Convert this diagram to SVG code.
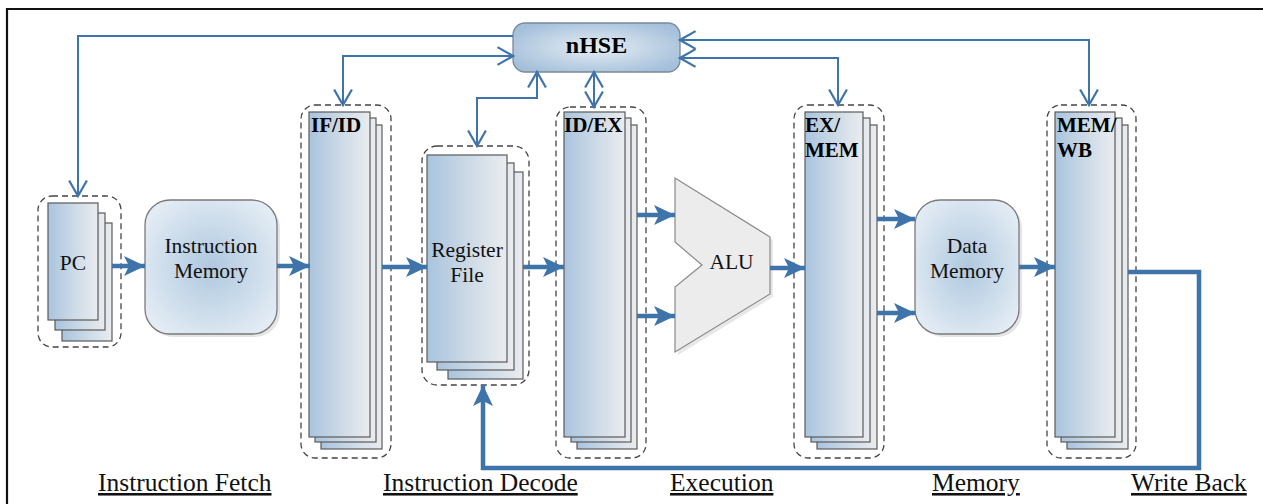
<svg xmlns="http://www.w3.org/2000/svg" width="1263" height="504" viewBox="0 0 1263 504">
<defs>
<linearGradient id="cardG" x1="0" y1="0" x2="1" y2="0">
<stop offset="0" stop-color="#a9c4de"/>
<stop offset="0.5" stop-color="#cbd9e6"/>
<stop offset="1" stop-color="#eaecef"/>
</linearGradient>
<radialGradient id="hseG" cx="0.5" cy="0.5" r="0.6">
<stop offset="0" stop-color="#e6edf4"/>
<stop offset="1" stop-color="#a3bfda"/>
</radialGradient>
<radialGradient id="memG" cx="0.5" cy="0.5" r="0.6">
<stop offset="0" stop-color="#afc8df"/>
<stop offset="1" stop-color="#e3ecf4"/>
</radialGradient>
<marker id="open" markerUnits="userSpaceOnUse" markerWidth="20" markerHeight="20" viewBox="0 0 16 18" refX="15" refY="9" orient="auto-start-reverse">
<path d="M1,1 L15,9 L1,17" fill="none" stroke="#3f74aa" stroke-width="2"/>
</marker>
<marker id="solid" markerUnits="userSpaceOnUse" markerWidth="22" markerHeight="22" viewBox="0 0 22 22" refX="21" refY="11" orient="auto">
<path d="M0,1 L21,11 L0,21 L5,11 z" fill="#3f74aa"/>
</marker>
<style>
.card{fill:url(#cardG);stroke:#5a5a5a;stroke-width:1.2}
.dash{fill:none;stroke:#444;stroke-width:1.3;stroke-dasharray:6 4}
.thin{fill:none;stroke:#3f74aa;stroke-width:2;marker-end:url(#open)}
.both{marker-start:url(#open)}
.thick{fill:none;stroke:#3f74aa;stroke-width:4.5;marker-end:url(#solid)}
.lbl{font-family:"Liberation Serif","Times New Roman",serif;font-size:21.5px;fill:#111}
.bold{font-family:"Liberation Serif","Times New Roman",serif;font-size:21px;font-weight:bold;fill:#000}
.stage{font-family:"Liberation Serif","Times New Roman",serif;font-size:25.5px;fill:#111;text-decoration:underline}
.mem{fill:url(#memG);stroke:#7a7a7a;stroke-width:1.3}
.shadow{fill:#d4d4d4;opacity:0.6}
</style>
</defs>
<rect width="1263" height="504" fill="#fff"/>
<path d="M7,504 V9 H1263" fill="none" stroke="#111" stroke-width="2.2"/>

<g id="nHSE">
<rect x="513" y="23" width="167" height="49" rx="12" fill="url(#hseG)" stroke="#7a8a9a" stroke-width="1.3"/>
<text x="596.5" y="53" text-anchor="middle" class="bold" style="font-size:24px">nHSE</text>
</g>

<g id="PC">
<rect class="dash" x="38" y="196" width="83" height="151" rx="14"/>
<rect class="card" x="62" y="223" width="50" height="118"/>
<rect class="card" x="55" y="213" width="50" height="117"/>
<rect class="card" x="48" y="203" width="50" height="117"/>
<text x="73" y="270" text-anchor="middle" class="lbl">PC</text>
</g>

<g id="InstructionMemory">
<rect class="shadow" x="148" y="203" width="132" height="134" rx="25"/>
<rect class="mem" x="145" y="200" width="132" height="134" rx="25"/>
<text x="211" y="253" text-anchor="middle" class="lbl">Instruction</text>
<text x="211" y="278" text-anchor="middle" class="lbl">Memory</text>
</g>

<g id="IFID">
<rect class="dash" x="301" y="105" width="90" height="353" rx="14"/>
<rect class="card" x="321" y="125" width="61" height="324"/>
<rect class="card" x="315" y="118" width="61" height="324"/>
<rect class="card" x="309" y="112" width="61" height="325"/>
<text x="311" y="132" class="bold">IF/ID</text>
</g>

<g id="RegisterFile">
<rect class="dash" x="422" y="146" width="107" height="239" rx="15"/>
<rect class="card" x="448" y="172" width="75" height="207"/>
<rect class="card" x="437" y="163" width="77" height="207"/>
<rect class="card" x="427" y="155" width="80" height="207"/>
<text x="467" y="257" text-anchor="middle" class="lbl">Register</text>
<text x="467" y="282" text-anchor="middle" class="lbl">File</text>
</g>

<g id="IDEX">
<rect class="dash" x="556" y="107" width="90" height="351" rx="14"/>
<rect class="card" x="577" y="125" width="60" height="324"/>
<rect class="card" x="571" y="118" width="60" height="324"/>
<rect class="card" x="564" y="112" width="61" height="325"/>
<text x="564" y="132" class="bold">ID/EX</text>
</g>

<g id="ALU">
<polygon points="678,181 773,240 773,297 678,355 678,290 705,268 678,245" fill="#d8d8d8" opacity="0.6"/>
<polygon points="675,178 770,237 770,294 675,352 675,287 702,265 675,242" fill="#ececec" stroke="#8a8a8a" stroke-width="1.2"/>
<text x="731.5" y="269" text-anchor="middle" class="lbl">ALU</text>
</g>

<g id="EXMEM">
<rect class="dash" x="794" y="105" width="90" height="353" rx="14"/>
<rect class="card" x="817" y="125" width="60" height="324"/>
<rect class="card" x="811" y="118" width="59" height="324"/>
<rect class="card" x="805" y="112" width="58" height="325"/>
<text x="805" y="132" class="bold">EX/</text>
<text x="805" y="157" class="bold">MEM</text>
</g>

<g id="DataMemory">
<rect class="shadow" x="918" y="203" width="104" height="134" rx="25"/>
<rect class="mem" x="915" y="200" width="104" height="134" rx="25"/>
<text x="967" y="253" text-anchor="middle" class="lbl">Data</text>
<text x="967" y="278" text-anchor="middle" class="lbl">Memory</text>
</g>

<g id="MEMWB">
<rect class="dash" x="1047" y="105" width="89" height="353" rx="14"/>
<rect class="card" x="1067" y="125" width="61" height="324"/>
<rect class="card" x="1061" y="118" width="61" height="324"/>
<rect class="card" x="1055" y="112" width="60" height="325"/>
<text x="1057" y="132" class="bold">MEM/</text>
<text x="1057" y="157" class="bold">WB</text>
</g>

<g id="connectors">
<path class="thin" d="M513,36 H78 V196"/>
<path class="thin both" d="M513,56 H343 V105"/>
<path class="thin both" d="M537,72 V98 H477 V146"/>
<path class="thin both" d="M594,72 V107"/>
<path class="thin both" d="M680,58 H838 V105"/>
<path class="thin both" d="M680,40 H1089 V105"/>
<path class="thick" d="M112,266 H145"/>
<path class="thick" d="M277,266 H310"/>
<path class="thick" d="M382,267 H427"/>
<path class="thick" d="M523,267 H564"/>
<path class="thick" d="M637,215 H675"/>
<path class="thick" d="M637,316 H675"/>
<path class="thick" d="M770,268 H805"/>
<path class="thick" d="M877,219 H915"/>
<path class="thick" d="M877,313 H915"/>
<path class="thick" d="M1019,267 H1055"/>
<path class="thick" d="M1128,272 H1199 V468 H483 V385" stroke-linejoin="miter"/>
</g>

<g id="stages">
<text x="98" y="491" class="stage">Instruction Fetch</text>
<text x="383" y="491" class="stage">Instruction Decode</text>
<text x="670" y="491" class="stage">Execution</text>
<text x="932" y="491" class="stage">Memory</text>
<text x="1131" y="491" class="stage">Write Back</text>
</g>
</svg>
